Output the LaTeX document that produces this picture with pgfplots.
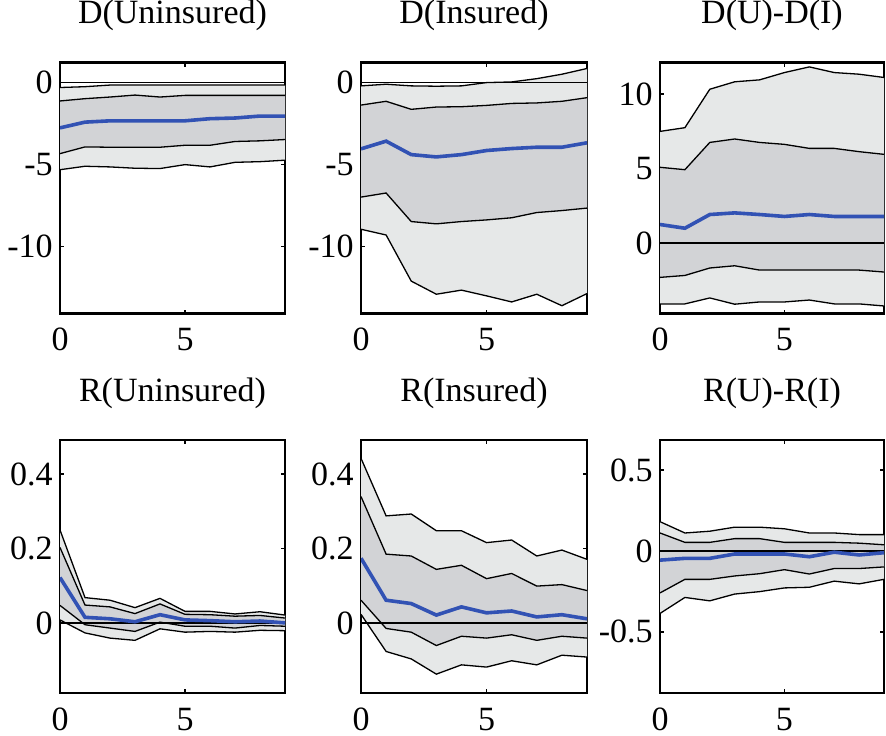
\documentclass[border=0pt]{standalone}
\usepackage{fontspec}
\setmainfont{Liberation Serif}
\usepackage{pgfplots}
\usepackage{pgfplotstable}
\pgfplotsset{compat=1.18}
\usepgfplotslibrary{fillbetween}
\definecolor{mblue}{RGB}{50,82,180}
\definecolor{lgray}{RGB}{230,232,232}
\definecolor{dgray}{RGB}{210,211,214}

\pgfplotstableread{
t ot it m ib ob
0 -0.30 -1.12 -2.76 -4.33 -5.31
1 -0.25 -0.98 -2.41 -3.92 -5.10
2 -0.15 -0.88 -2.33 -3.94 -5.14
3 -0.15 -0.76 -2.33 -3.94 -5.22
4 -0.15 -0.88 -2.33 -3.94 -5.24
5 -0.15 -0.78 -2.33 -3.82 -5.00
6 -0.15 -0.78 -2.20 -3.82 -5.14
7 -0.15 -0.78 -2.16 -3.59 -4.86
8 -0.15 -0.78 -2.04 -3.55 -4.82
9 -0.15 -0.78 -2.04 -3.47 -4.73
}\tA
\pgfplotstableread{
t ot it m ib ob
0 -0.20 -1.37 -4.04 -6.98 -8.94
1 -0.10 -1.14 -3.57 -6.73 -9.29
2 -0.20 -1.63 -4.39 -8.47 -12.10
3 -0.22 -1.49 -4.53 -8.61 -12.90
4 -0.20 -1.47 -4.39 -8.47 -12.65
5 0.00 -1.39 -4.14 -8.37 -13.00
6 0.04 -1.27 -4.02 -8.24 -13.37
7 0.24 -1.24 -3.94 -7.92 -12.90
8 0.51 -1.14 -3.94 -7.80 -13.60
9 0.86 -0.92 -3.67 -7.65 -12.86
}\tB
\pgfplotstableread{
t ot it m ib ob
0 7.50 5.09 1.25 -2.30 -4.08
1 7.75 4.93 1.00 -2.17 -4.08
2 10.33 6.76 1.92 -1.67 -3.68
3 10.83 6.99 2.03 -1.52 -4.10
4 10.96 6.76 1.92 -1.81 -3.95
5 11.45 6.63 1.79 -1.81 -3.95
6 11.83 6.36 1.92 -1.81 -3.82
7 11.45 6.36 1.79 -1.81 -4.08
8 11.34 6.14 1.79 -1.81 -4.08
9 11.12 5.96 1.79 -1.94 -4.22
}\tC
\pgfplotstableread{
t ot it m ib ob
0 0.250 0.203 0.122 0.047 0.008
1 0.068 0.048 0.015 -0.005 -0.027
2 0.061 0.043 0.011 -0.014 -0.041
3 0.041 0.025 0.003 -0.023 -0.047
4 0.066 0.051 0.022 0.002 -0.016
5 0.031 0.023 0.008 -0.009 -0.025
6 0.031 0.022 0.006 -0.009 -0.023
7 0.024 0.018 0.003 -0.014 -0.025
8 0.030 0.020 0.005 -0.007 -0.020
9 0.021 0.013 0.000 -0.009 -0.021
}\tD
\pgfplotstableread{
t ot it m ib ob
0 0.443 0.340 0.174 0.061 0.023
1 0.288 0.185 0.061 -0.015 -0.077
2 0.293 0.180 0.052 -0.025 -0.097
3 0.248 0.144 0.021 -0.061 -0.138
4 0.248 0.155 0.043 -0.036 -0.113
5 0.216 0.119 0.027 -0.041 -0.119
6 0.223 0.133 0.032 -0.032 -0.102
7 0.180 0.099 0.016 -0.047 -0.113
8 0.196 0.103 0.022 -0.036 -0.087
9 0.171 0.087 0.011 -0.041 -0.092
}\tE
\pgfplotstableread{
t ot it m ib ob
0 0.181 0.111 -0.057 -0.260 -0.387
1 0.111 0.053 -0.046 -0.176 -0.288
2 0.122 0.053 -0.046 -0.176 -0.309
3 0.147 0.076 -0.019 -0.155 -0.267
4 0.147 0.076 -0.019 -0.141 -0.252
5 0.137 0.053 -0.019 -0.116 -0.229
6 0.111 0.053 -0.036 -0.143 -0.225
7 0.111 0.053 -0.008 -0.109 -0.187
8 0.101 0.048 -0.025 -0.109 -0.204
9 0.101 0.038 -0.011 -0.099 -0.176
}\tF

\newcommand{\bands}[1]{%
  \addplot[draw=none, name path=ot] table[x=t,y=ot]{#1};
  \addplot[draw=none, name path=ob] table[x=t,y=ob]{#1};
  \addplot[draw=none, name path=it] table[x=t,y=it]{#1};
  \addplot[draw=none, name path=ib] table[x=t,y=ib]{#1};
  \addplot[fill=lgray, draw=none] fill between[of=ot and ob];
  \addplot[fill=dgray, draw=none] fill between[of=it and ib];
  \addplot[black, line width=0.65pt] table[x=t,y=ot]{#1};
  \addplot[black, line width=0.65pt] table[x=t,y=it]{#1};
  \addplot[black, line width=0.65pt] table[x=t,y=ib]{#1};
  \addplot[black, line width=0.65pt] table[x=t,y=ob]{#1};
  \addplot[black, line width=0.65pt] coordinates {(0,0) (9,0)};
  \addplot[mblue, line width=1.8pt] table[x=t,y=m]{#1};
}

\pgfplotsset{
  mypanel/.style={
    scale only axis,
    anchor=south west,
    xmin=0, xmax=9,
    xtick={0,5},
    /pgf/number format/assume math mode=true,
    axis line style={line width=1.1pt},
    tick style={black, line width=0.8pt},
    major tick length=2pt,
    tick align=inside,
    every tick label/.append style={font=\rmfamily\fontsize{17}{20}\selectfont},
    xticklabel style={anchor=base, inner sep=0pt, yshift=-18.5pt},
    yticklabel style={anchor=east, inner sep=0pt, xshift=-3.5pt},
    title style={font=\rmfamily\fontsize{17}{20}\selectfont, inner sep=0pt, at={(0.5,1)}, anchor=base, yshift=13.5pt},
  }
}

\begin{document}
\begin{tikzpicture}

\begin{axis}[mypanel, at={(30pt,211pt)}, width=112.5pt, height=125.5pt,
  ymin=-14.08, ymax=1.22, ytick={-10,-5,0},
  title={D(Uninsured)}]
\bands{\tA}
\end{axis}

\begin{axis}[mypanel, at={(180.5pt,211pt)}, width=113pt, height=125.5pt,
  ymin=-14.08, ymax=1.22, ytick={-10,-5,0},
  title={D(Insured)}]
\bands{\tB}
\end{axis}

\begin{axis}[mypanel, at={(330pt,211pt)}, width=112pt, height=125.5pt,
  ymin=-4.73, ymax=12.12, ytick={0,5,10},
  title={D(U)-D(I)}]
\bands{\tC}
\end{axis}

\begin{axis}[mypanel, at={(30pt,21.25pt)}, width=112.5pt, height=126.5pt,
  ymin=-0.189, ymax=0.492, ytick={0,0.2,0.4},
  title={R(Uninsured)}]
\bands{\tD}
\end{axis}

\begin{axis}[mypanel, at={(180.5pt,21.25pt)}, width=113pt, height=126.5pt,
  ymin=-0.189, ymax=0.492, ytick={0,0.2,0.4},
  title={R(Insured)}]
\bands{\tE}
\end{axis}

\begin{axis}[mypanel, at={(330pt,21.25pt)}, width=112pt, height=126.5pt,
  ymin=-0.88, ymax=0.686, ytick={-0.5,0,0.5},
  title={R(U)-R(I)}]
\bands{\tF}
\end{axis}
\path (0,0) rectangle (443pt,366.5pt);
\end{tikzpicture}
\end{document}
